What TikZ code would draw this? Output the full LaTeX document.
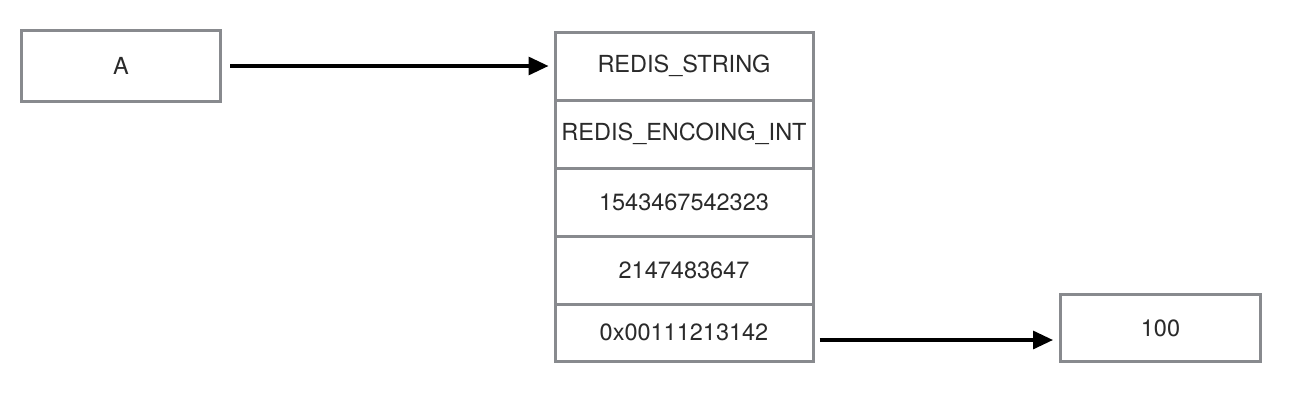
\documentclass[tikz,border=0pt]{standalone}
\usepackage{fontspec}
\setmainfont{TeX Gyre Heros}
\usepackage{xcolor}
\usetikzlibrary{arrows.meta}
\definecolor{boxgray}{HTML}{888A8E}
\definecolor{txtgray}{HTML}{2A2A2A}

\begin{document}
\begin{tikzpicture}[
					x=1pt,y=-1pt,
					cell/.style={rectangle,draw=boxgray,line width=3pt,fill=white,inner sep=0pt,text=txtgray,font=\fontsize{23.5}{28}\selectfont},
					link/.style={draw=black,line width=3.2pt,-{Triangle[length=20pt,width=18pt]}}
					]
					\useasboundingbox (0,0) rectangle (1294,410);
					\node[cell,minimum width=199pt,minimum height=71pt] (key) at (121,66) {A};
					\foreach \i/\y/\h/\txt in {1/66.25/67.5/REDIS\_STRING,2/134/68/REDIS\_ENCOING\_INT,3/202/68/1543467542323,4/270/68/2147483647,5/332.5/57/0x00111213142}{
						\node[cell,minimum width=258pt,minimum height=\h pt] (f\i) at (684,\y) {\txt};
					}
					\node[cell,minimum width=200pt,minimum height=67pt] (val) at (1160.5,328) {100};
					\draw[link,shorten <=8pt,shorten >=5pt] (key.east) -- (key.east -| f1.west);
					\coordinate (tail) at ([yshift=-7.5pt]f5.east);
					\draw[link,shorten <=5pt,shorten >=6pt] (tail) -- (tail -| val.west);
				\end{tikzpicture}
\end{document}
